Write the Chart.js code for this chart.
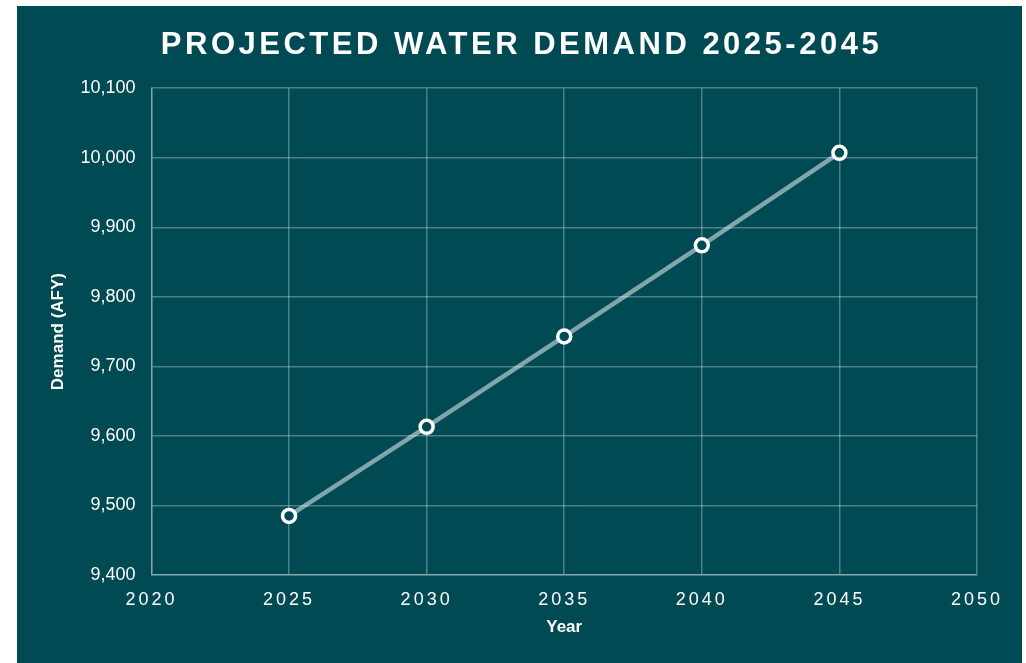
<!DOCTYPE html>
<html lang='en'>
<head>
  <meta charset='UTF-8'>
  <title>Projected Water Demand</title>
  <style>
    body { margin: 0; background: #ffffff; font-family: 'Liberation Sans', Arial, sans-serif; }
    #panel { position: absolute; left: 17px; top: 6px; width: 1005px; height: 657px; background: #004a54; }
  </style>
  <script src="https://cdn.jsdelivr.net/npm/chart.js"></script>
</head>
<body>
  <div id='panel'><canvas id='chart'></canvas></div>
  <script>
    const years = [2025, 2030, 2035, 2040, 2045];
    const demand = [9485, 9613, 9743, 9874, 10007];
    const xTicks = [2020, 2025, 2030, 2035, 2040, 2045, 2050];
    const yRange = [9400, 10100];

    const panelBg = '#004a54';
    const gridColor = 'rgba(255,255,255,0.3)';
    const fontFamily = "'Liberation Sans', Arial, sans-serif";

    // canvas text has no letter spacing option in Chart.js, so wrap the draws that need it
    const spacing = {
      id: 'spacing',
      beforeDraw(chart) {
        const ctx = chart.ctx;
        const wrap = (obj, fn, sp, dx) => {
          if (!obj || obj['_sp_' + fn]) return;
          const orig = obj[fn].bind(obj);
          obj[fn] = function (a) {
            ctx.save();
            ctx.letterSpacing = sp;
            ctx.translate(dx, 0);
            orig(a);
            ctx.restore();
          };
          obj['_sp_' + fn] = true;
        };
        wrap(chart.scales.x, 'drawLabels', '3px', 0);
        // title sits centred on the whole panel, not between the paddings
        wrap(chart.titleBlock, 'draw', '3.5px', 9);
      }
    };

    new Chart(document.getElementById('chart'), {
      type: 'line',
      data: {
        datasets: [{
          data: years.map((y, i) => ({ x: y, y: demand[i] })),
          borderColor: 'rgba(255,255,255,0.5)',
          borderWidth: 4.5,
          pointRadius: 6.5,
          pointBorderWidth: 3.5,
          pointBorderColor: '#ffffff',
          pointBackgroundColor: panelBg,
          tension: 0
        }]
      },
      options: {
        responsive: true,
        maintainAspectRatio: false,
        animation: false,
        layout: { padding: { left: 31, right: 45, top: 21, bottom: 25 } },
        plugins: {
          legend: { display: false },
          tooltip: { enabled: false },
          title: {
            display: true,
            text: 'PROJECTED WATER DEMAND 2025-2045',
            color: '#ffffff',
            font: { size: 31, weight: 'bold', family: fontFamily },
            padding: { top: 0, bottom: 24 }
          }
        },
        scales: {
          x: {
            type: 'linear',
            min: xTicks[0],
            max: xTicks[xTicks.length - 1],
            afterBuildTicks: s => { s.ticks = xTicks.map(v => ({ value: v })); },
            grid: { color: gridColor, lineWidth: 1.5, drawTicks: false },
            border: { color: gridColor, width: 1.5 },
            ticks: {
              color: '#ffffff',
              padding: 14,
              font: { size: 18, family: fontFamily },
              callback: v => String(v)
            },
            title: {
              display: true,
              text: 'Year',
              color: '#ffffff',
              font: { size: 17, weight: 'bold', family: fontFamily },
              padding: { top: -7, bottom: 0 }
            }
          },
          y: {
            min: yRange[0],
            max: yRange[1],
            ticks: {
              stepSize: 100,
              color: '#ffffff',
              padding: 16,
              font: { size: 18, family: fontFamily },
              callback: v => v.toLocaleString('en-US')
            },
            grid: { color: gridColor, lineWidth: 1.5, drawTicks: false },
            border: { color: gridColor, width: 1.5 },
            title: {
              display: true,
              text: 'Demand (AFY)',
              color: '#ffffff',
              font: { size: 17, weight: 'bold', family: fontFamily },
              padding: { top: 0, bottom: -4 }
            }
          }
        }
      },
      plugins: [spacing]
    });
  </script>
</body>
</html>
